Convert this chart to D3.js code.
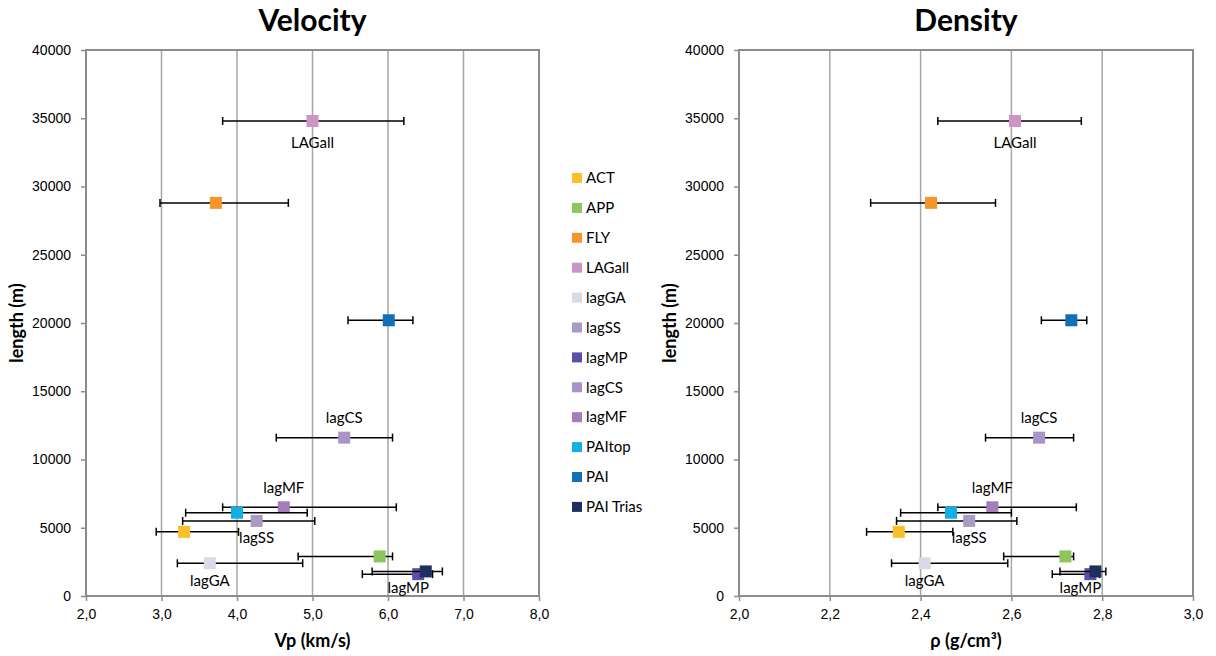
<!DOCTYPE html>
<html>
<head>
  <meta charset="UTF-8">
  <title>Velocity / Density</title>
  <script src="https://d3js.org/d3.v7.min.js"></script>
  <style>
    body { margin: 0; background: #fff; font-family: Lato, "Noto Sans", sans-serif; }
    .tick text { font-size: 14px; fill: #000; }
  </style>
</head>
<body>
  <div id="chart"></div>
  <script>
    // groups, in legend order
    const groups = ["ACT", "APP", "FLY", "LAGall", "lagGA", "lagSS", "lagMP", "lagCS", "lagMF", "PAItop", "PAI", "PAI Trias"];
    const colors = ["#fbbf2a", "#8cc65c", "#f7952c", "#cd94c6", "#dcd8e6", "#a99cc4", "#5b50a3", "#a894c9", "#a57db8", "#13aee6", "#1070b8", "#1f2f5e"];
    const lengthM = [4700, 2900, 28800, 34800, 2400, 5500, 1600, 11600, 6500, 6100, 20200, 1800];

    const vp   = [3.30, 5.89, 3.72, 5.00, 3.64, 4.26, 6.40, 5.42, 4.62, 4.00, 6.01, 6.50];
    const vpLo = [2.93, 4.81, 2.98, 3.81, 3.21, 3.28, 5.66, 4.52, 3.81, 3.32, 5.47, 5.79];
    const vpHi = [4.02, 6.06, 4.68, 6.21, 4.87, 5.03, 6.59, 6.06, 6.11, 4.93, 6.33, 6.72];

    const rho   = [2.352, 2.719, 2.423, 2.608, 2.409, 2.507, 2.774, 2.661, 2.558, 2.467, 2.732, 2.785];
    const rhoLo = [2.281, 2.583, 2.290, 2.438, 2.336, 2.347, 2.690, 2.543, 2.438, 2.356, 2.666, 2.707];
    const rhoHi = [2.471, 2.737, 2.565, 2.754, 2.592, 2.612, 2.794, 2.737, 2.743, 2.600, 2.766, 2.808];

    const yTicks = d3.range(0, 40001, 5000);
    const vpTicks = [2, 3, 4, 5, 6, 7, 8];
    const rhoTicks = [2.0, 2.2, 2.4, 2.6, 2.8, 3.0];

    // which points carry a label, and where
    const labelPlace = {LAGall: 22, lagCS: -20, lagMF: -20, lagSS: 17, lagGA: 18, lagMP: 14};
    const labelShift = {lagMP: -10};

    const svg = d3.select("#chart").append("svg")
      .attr("width", 1216).attr("height", 656);

    const fmt = d => d3.format(".1f")(d).replace(".", ",");

    function panel(opts) {
      const {x0, x1, title, xLabel, vals, lo, hi, ticks} = opts;
      const top = 50, bottom = 596;
      const x = d3.scaleLinear().domain([ticks[0], ticks[ticks.length - 1]]).range([x0, x1]);
      const y = d3.scaleLinear().domain([0, 40000]).range([bottom, top]);
      const g = svg.append("g");

      // grid
      g.selectAll(".grid").data(ticks.slice(1, -1)).enter().append("line")
        .attr("x1", d => x(d)).attr("x2", d => x(d))
        .attr("y1", top).attr("y2", bottom)
        .attr("stroke", "#a6a6a6").attr("stroke-width", 1.5);

      // frame
      g.append("rect").attr("x", x0).attr("y", top)
        .attr("width", x1 - x0).attr("height", bottom - top)
        .attr("fill", "none").attr("stroke", "#8c8c8c").attr("stroke-width", 2);

      const ax = g.append("g").attr("transform", `translate(0,${bottom})`)
        .call(d3.axisBottom(x).tickValues(ticks).tickFormat(fmt).tickSize(5).tickPadding(8));
      ax.select(".domain").remove();
      ax.selectAll("line").attr("stroke", "#8c8c8c").attr("stroke-width", 1.5);

      const ay = g.append("g").attr("transform", `translate(${x0},0)`)
        .call(d3.axisLeft(y).tickValues(yTicks).tickFormat(d3.format("d")).tickSize(5).tickPadding(10));
      ay.select(".domain").remove();
      ay.selectAll("line").attr("stroke", "#8c8c8c").attr("stroke-width", 1.5);

      // titles
      g.append("text").attr("x", (x0 + x1) / 2).attr("y", 31)
        .attr("text-anchor", "middle").style("font-size", "30px").style("font-weight", "bold")
        .text(title);
      g.append("text").attr("x", (x0 + x1) / 2).attr("y", 647)
        .attr("text-anchor", "middle").style("font-size", "18px").style("font-weight", "bold")
        .text(xLabel);
      g.append("text")
        .attr("transform", `translate(${x0 - 63},${(top + bottom) / 2}) rotate(-90)`)
        .attr("text-anchor", "middle").style("font-size", "18px").style("font-weight", "bold")
        .text("length (m)");

      const pts = groups.map((name, i) => ({name, i, v: vals[i], lo: lo[i], hi: hi[i], len: lengthM[i]}));

      pts.forEach(d => {
        const cy = y(d.len);
        const e = g.append("g");
        e.append("line").attr("x1", x(d.lo)).attr("x2", x(d.hi)).attr("y1", cy).attr("y2", cy)
          .attr("stroke", "#000").attr("stroke-width", 1.5);
        [d.lo, d.hi].forEach(v => e.append("line")
          .attr("x1", x(v)).attr("x2", x(v)).attr("y1", cy - 4).attr("y2", cy + 4)
          .attr("stroke", "#000").attr("stroke-width", 1.5));
        e.append("rect").attr("x", x(d.v) - 6).attr("y", cy - 6)
          .attr("width", 12).attr("height", 12).attr("fill", colors[d.i]);
      });

      pts.filter(d => d.name in labelPlace).forEach(d => {
        g.append("text")
          .attr("x", x(d.v) + (labelShift[d.name] || 0))
          .attr("y", y(d.len) + labelPlace[d.name])
          .attr("dy", "0.35em").attr("text-anchor", "middle")
          .style("font-size", "15px")
          .text(d.name);
      });
    }

    panel({x0: 86, x1: 539, title: "Velocity", xLabel: "Vp (km/s)", vals: vp, lo: vpLo, hi: vpHi, ticks: vpTicks});
    panel({x0: 739, x1: 1193, title: "Density", xLabel: "ρ (g/cm³)", vals: rho, lo: rhoLo, hi: rhoHi, ticks: rhoTicks});

    // legend
    const leg = svg.append("g").attr("transform", "translate(572,178)");
    groups.forEach((name, i) => {
      const r = leg.append("g").attr("transform", `translate(0,${i * 29.9})`);
      r.append("rect").attr("x", 0).attr("y", -5).attr("width", 10).attr("height", 10).attr("fill", colors[i]);
      r.append("text").attr("x", 14).attr("y", 0).attr("dy", "0.35em")
        .style("font-size", "15px").text(name);
    });
  </script>
</body>
</html>
